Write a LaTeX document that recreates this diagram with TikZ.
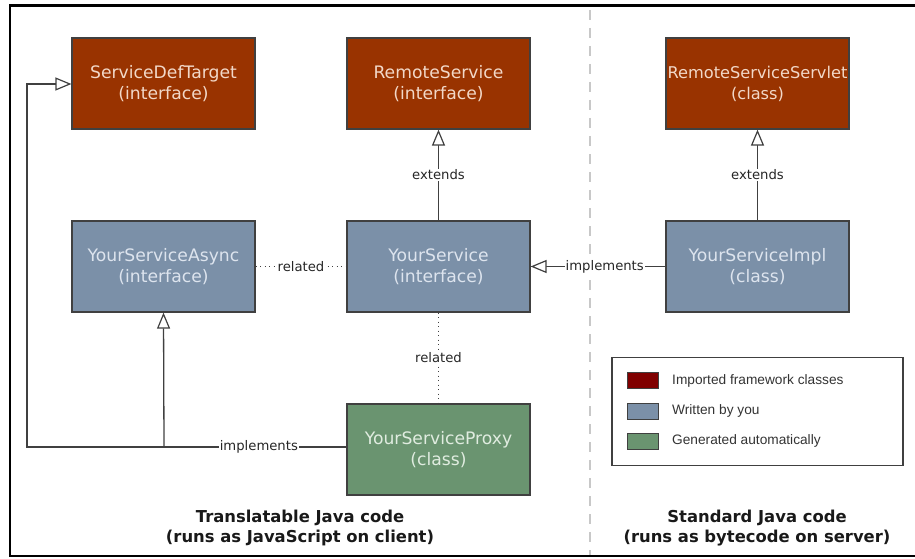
\documentclass[tikz,border=0pt]{standalone}
\usepackage{fontspec}
\setmainfont{DejaVu Sans}
\newfontfamily\legendfont{Liberation Sans}
\usetikzlibrary{arrows.meta}
\definecolor{imp}{HTML}{993300}
\definecolor{you}{HTML}{7B90A8}
\definecolor{gen}{HTML}{6A9470}
\definecolor{impsw}{HTML}{800000}
\definecolor{imptxt}{HTML}{F2D8C8}
\definecolor{youtxt}{HTML}{DDE4EE}
\definecolor{gentxt}{HTML}{E0ECE0}
\definecolor{linec}{HTML}{404040}
\definecolor{sepc}{HTML}{C8C8C8}
\begin{document}
\begin{tikzpicture}[x=1pt,y=-1pt,
  cls/.style={draw=linec,line width=1.2pt,minimum width=183pt,minimum height=91pt,
    align=center,inner sep=0pt,font=\fontsize{17.2}{21}\selectfont},
  impbox/.style={cls,fill=imp,text=imptxt},
  youbox/.style={cls,fill=you,text=youtxt},
  genbox/.style={cls,fill=gen,text=gentxt},
  conn/.style={draw=linec,line width=1.3pt},
  rel/.style={draw=linec,line width=1.2pt,dash pattern=on 1.2pt off 3.3pt},
  tip/.style={-{Triangle[length=16pt,width=13pt,fill=white,line width=1.2pt]}},
  lbl/.style={fill=white,inner sep=1pt,text=black!85,font=\fontsize{13.2}{15}\selectfont},
  sw/.style={draw=linec,line width=1pt,minimum width=31pt,minimum height=16pt,inner sep=0pt},
  legtxt/.style={anchor=west,inner sep=0pt,text=black!80,font=\legendfont\fontsize{13.7}{15}\selectfont},
  title/.style={align=center,font=\bfseries\fontsize{16.4}{20.5}\selectfont,text=black!90}]
\useasboundingbox (0,0) rectangle (915,559);
% frame
\draw[line width=2.2pt] (915,5.5) -- (10,5.5) -- (10,556) -- (915,556);
% separator
\draw[sepc,line width=2pt,dash pattern=on 10pt off 8pt] (590,10) -- (590,555);
% classes
\node[impbox] (sdt) at (163.5,83.5) {ServiceDefTarget\\(interface)};
\node[impbox] (rs) at (438.5,83.5) {RemoteService\\(interface)};
\node[impbox,font=\fontsize{16.2}{21}\selectfont] (rss) at (757.5,83.5) {RemoteServiceServlet\\(class)};
\node[youbox] (ysa) at (163.5,266.5) {YourServiceAsync\\(interface)};
\node[youbox] (ys) at (438.5,266.5) {YourService\\(interface)};
\node[youbox] (ysi) at (757.5,266.5) {YourServiceImpl\\(class)};
\node[genbox] (ysp) at (438.5,449.5) {YourServiceProxy\\(class)};
% connectors
\draw[conn,tip] (ys) -- node[lbl,pos=0.5] {extends} (rs);
\draw[conn,tip] (ysi) -- node[lbl,pos=0.5] {extends} (rss);
\draw[conn,tip] (ysi) -- node[lbl,pos=0.45] {implements} (ys);
\draw[rel] (ysa) -- node[lbl] {related} (ys);
\draw[rel] (ys) -- node[lbl] {related} (ysp);
\coordinate (j) at (164,447);
\coordinate (c1) at (27,447);
\coordinate (c2) at (27,84);
\draw[conn] (ysp.west |- j) -- node[lbl,pos=0.48] {implements} (j);
\draw[conn,tip] (j) -- (ysa.south);
\draw[conn,tip] (j) -- (c1) -- (c2) -- (sdt.west |- c2);
% legend
\node[draw=linec,line width=1.1pt,minimum width=291pt,minimum height=108pt,inner sep=0pt] (leg) at (757.5,411.5) {};
\node[sw,fill=impsw] (s1) at (643,380.5) {};
\node[sw,fill=you] (s2) at (643,411) {};
\node[sw,fill=gen] (s3) at (643,441) {};
\node[legtxt] (t1) at (672,380.5) {Imported framework classes};
\node[legtxt] (t2) at (672,410.5) {Written by you};
\node[legtxt] (t3) at (672,440.5) {Generated automatically};
% titles
\node[title] (tl) at (300,528) {Translatable Java code\\(runs as JavaScript on client)};
\node[title] (tr) at (757,528) {Standard Java code\\(runs as bytecode on server)};
\end{tikzpicture}
\end{document}
